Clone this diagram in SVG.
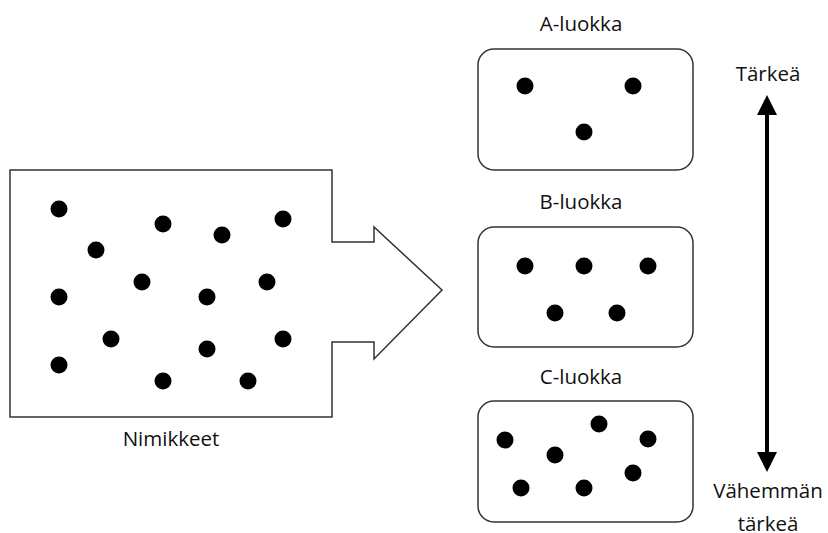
<svg xmlns="http://www.w3.org/2000/svg" width="828" height="533" viewBox="0 0 828 533">
<style>
.lbl{font-family:"Open Sans","Liberation Sans",sans-serif;font-size:20.5px;fill:#111;text-anchor:middle}
.box{fill:#fff;stroke:#333;stroke-width:1.5}
.dot{fill:#000}
</style>
<defs>
<marker id="ah" viewBox="0 0 20 20" refX="0" refY="10" markerWidth="20" markerHeight="20" markerUnits="userSpaceOnUse" orient="auto-start-reverse">
<path d="M0,0 L20,10 L0,20 Z" fill="#000"/>
</marker>
</defs>
<rect width="828" height="533" fill="#fff"/>
<g id="nimikkeet">
<path class="box" d="M10,170 H332 V242 H374 V227 L442,290 L374,359 V342 H332 V417 H10 Z"/>
<circle class="dot" cx="59" cy="209" r="8.5"/>
<circle class="dot" cx="163" cy="224" r="8.5"/>
<circle class="dot" cx="222" cy="235" r="8.5"/>
<circle class="dot" cx="283" cy="219" r="8.5"/>
<circle class="dot" cx="96" cy="250" r="8.5"/>
<circle class="dot" cx="142" cy="282" r="8.5"/>
<circle class="dot" cx="207" cy="297" r="8.5"/>
<circle class="dot" cx="267" cy="282" r="8.5"/>
<circle class="dot" cx="59" cy="297" r="8.5"/>
<circle class="dot" cx="111" cy="339" r="8.5"/>
<circle class="dot" cx="207" cy="349" r="8.5"/>
<circle class="dot" cx="283" cy="339" r="8.5"/>
<circle class="dot" cx="59" cy="365" r="8.5"/>
<circle class="dot" cx="163" cy="381" r="8.5"/>
<circle class="dot" cx="248" cy="381" r="8.5"/>
<text class="lbl" x="171" y="446">Nimikkeet</text>
</g>
<g id="a-luokka">
<text class="lbl" x="581" y="31">A-luokka</text>
<rect class="box" x="478" y="49" width="215" height="121" rx="16"/>
<circle class="dot" cx="525" cy="86" r="8.5"/>
<circle class="dot" cx="633" cy="86" r="8.5"/>
<circle class="dot" cx="584" cy="132" r="8.5"/>
</g>
<g id="b-luokka">
<text class="lbl" x="581" y="209">B-luokka</text>
<rect class="box" x="478" y="227" width="215" height="120" rx="16"/>
<circle class="dot" cx="525" cy="266" r="8.5"/>
<circle class="dot" cx="584" cy="266" r="8.5"/>
<circle class="dot" cx="648" cy="266" r="8.5"/>
<circle class="dot" cx="555" cy="313" r="8.5"/>
<circle class="dot" cx="617" cy="313" r="8.5"/>
</g>
<g id="c-luokka">
<text class="lbl" x="581" y="384">C-luokka</text>
<rect class="box" x="478" y="401" width="215" height="121" rx="16"/>
<circle class="dot" cx="505" cy="440" r="8.5"/>
<circle class="dot" cx="599" cy="424" r="8.5"/>
<circle class="dot" cx="648" cy="439" r="8.5"/>
<circle class="dot" cx="555" cy="455" r="8.5"/>
<circle class="dot" cx="633" cy="473" r="8.5"/>
<circle class="dot" cx="521" cy="488" r="8.5"/>
<circle class="dot" cx="584" cy="488" r="8.5"/>
</g>
<g id="scale-labels">
<text class="lbl" x="768" y="81">Tärkeä</text>
<text class="lbl" x="768" y="498">Vähemmän</text>
<text class="lbl" x="768" y="531">tärkeä</text>
</g>
<g id="connectors">
<line x1="767" y1="115" x2="767" y2="452" stroke="#000" stroke-width="4" marker-start="url(#ah)" marker-end="url(#ah)"/>
</g>
</svg>
